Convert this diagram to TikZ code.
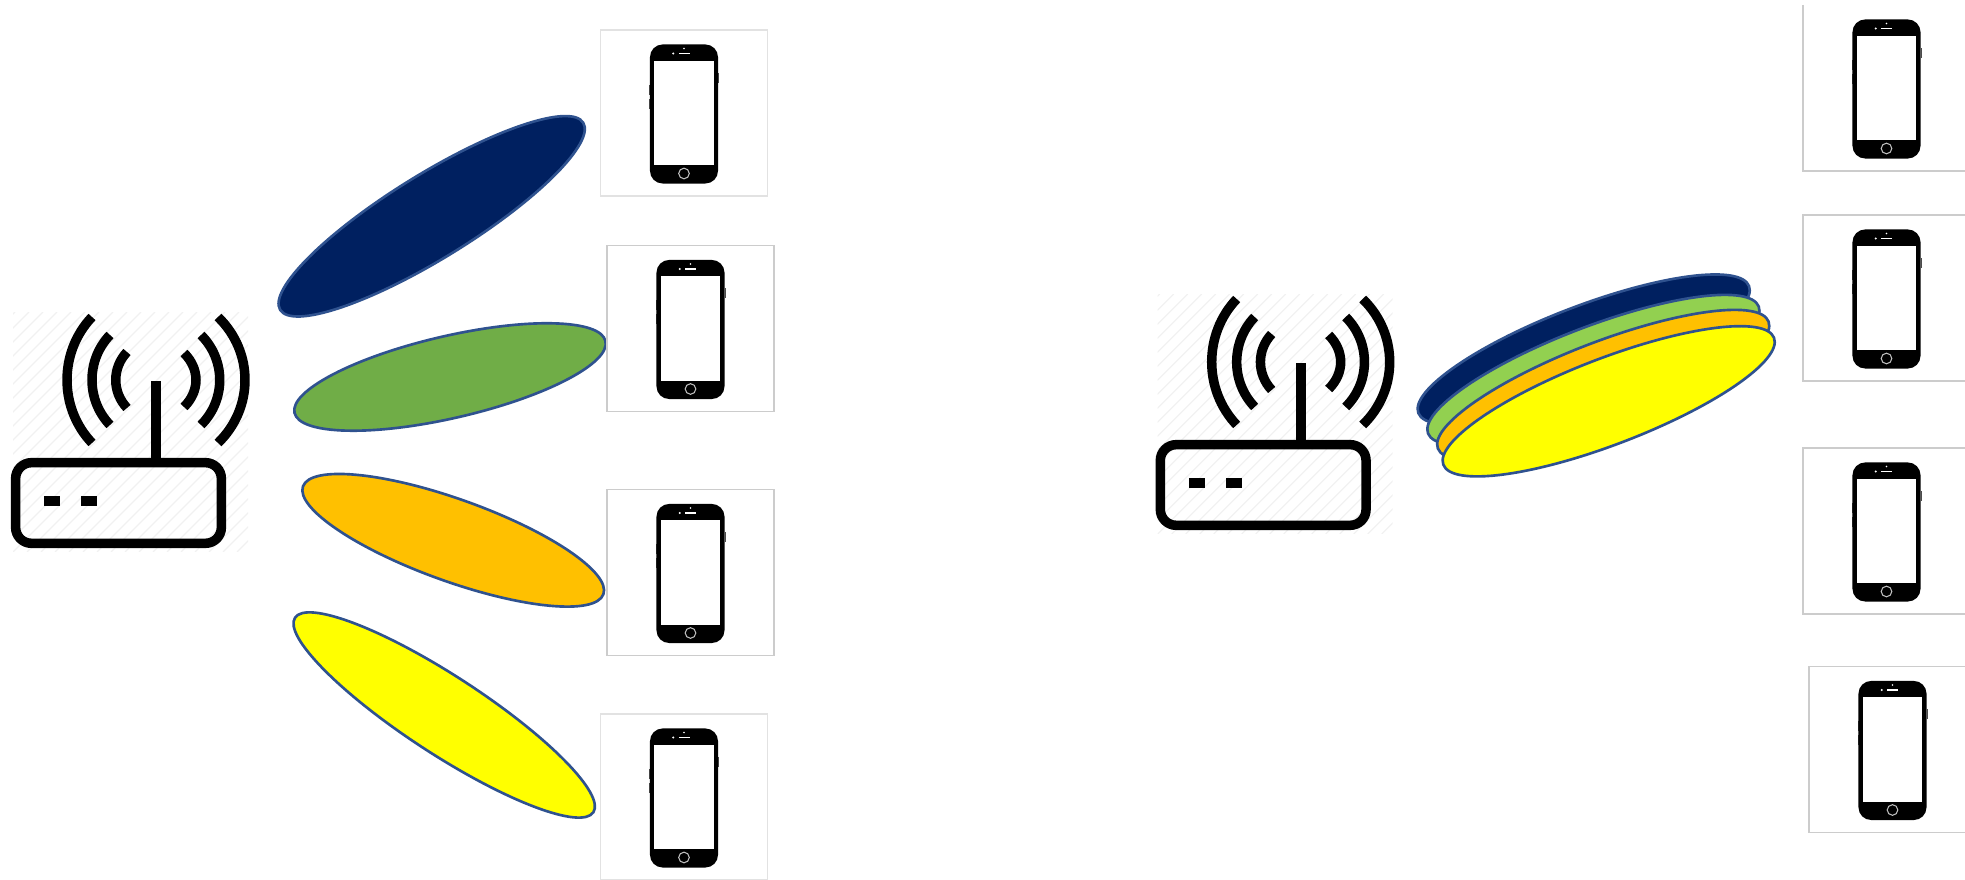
\documentclass[tikz,border=0pt]{standalone}
\usepackage{xcolor}
\usetikzlibrary{shapes.geometric}

\definecolor{beamnavy}{HTML}{002060}
\definecolor{beamgreen}{HTML}{70AD47}
\definecolor{beamlime}{HTML}{92D050}
\definecolor{beamorange}{HTML}{FFC000}
\definecolor{beamyellow}{HTML}{FFFF00}
\definecolor{beamline}{HTML}{2F528F}
\definecolor{framegray}{HTML}{CCCCCC}
\definecolor{framelight}{HTML}{E2E2E2}
\definecolor{hatchgray}{HTML}{F1F1F1}

\tikzset{
  beam/.style={ellipse, draw=beamline, line width=0.75pt, inner sep=0pt, outer sep=0pt},
  wave/.style={line width=2.7pt, black},
  phonebox/.style={rectangle, line width=0.35pt, minimum width=1.67cm, minimum height=1.66cm, inner sep=0pt, outer sep=0pt},
  phonebody/.style={rectangle, fill=black, rounded corners=3.6pt, minimum width=0.68cm, minimum height=1.39cm, inner sep=0pt, outer sep=0pt},
  phonescreen/.style={rectangle, fill=white, minimum width=0.595cm, minimum height=1.04cm, inner sep=0pt, outer sep=0pt},
  routerbody/.style={rectangle, draw=black, line width=2.7pt, rounded corners=4.5pt, minimum width=2.056cm, minimum height=0.806cm, inner sep=0pt, outer sep=0pt},
  routerled/.style={rectangle, fill=black, minimum width=0.16cm, minimum height=0.1cm, inner sep=0pt, outer sep=0pt}
}

% #1 frame colour, #2 name, #3 and #4 centre of the phone
\newcommand{\drawphone}[4][draw=framegray]{
  \node[phonebox, #1] (#2) at (#3,#4) {};
  \begin{scope}[shift={(#3,#4)}]
    \fill[black!70] (34,-40) rectangle (35,-30);
    \fill[black!70] (-35,-28) rectangle (-34,-18);
    \fill[black!70] (-35,-14) rectangle (-34,-4);
    \node[phonebody] (#2body) at (0,1) {};
    \node[phonescreen] (#2screen) at (0,0) {};
    \fill[white] (-10.7,-59.5) circle (1.1);
    \fill[white] (0,-64.5) circle (0.9);
    \fill[white] (-5.3,-60.2) rectangle (5.7,-58.8);
    \draw[white!75!black, line width=0.3pt] (0,60.5) circle (5.3);
  \end{scope}
}

% #1 name, #2 and #3 shift of the router
\newcommand{\drawrouter}[3]{
  \begin{scope}[shift={(#2,#3)}]
    % faint stripes behind the icon
    \begin{scope}
      \clip (13,313) rectangle (248,552);
      \foreach \i in {0,14,...,490}
        \draw[hatchgray, line width=0.35pt] (13+\i,552) -- (13+\i+240,552-240) ;
      \foreach \i in {14,28,...,240}
        \draw[hatchgray, line width=0.35pt] (13-\i,552) -- (13-\i+240,552-240) ;
    \end{scope}
    \node[routerbody] (#1) at (118.5,503) {};
    \node[routerled] (#1ledA) at (52,501) {};
    \node[routerled] (#1ledB) at (89,501) {};
    \coordinate (#1foot) at (156,460);
    \coordinate (#1top) at (156,381);
    \draw[line width=2.85pt] (#1foot) -- (#1top);
    % left waves
    \draw[wave] (92,317) .. controls (58.7,352) and (58.7,408) .. (92,443);
    \draw[wave] (110,335) .. controls (86,360) and (86,400) .. (110,425);
    \draw[wave] (127,352) .. controls (112,368) and (112,392) .. (127,408);
    % right waves
    \draw[wave] (218,317) .. controls (254,352) and (254,408) .. (218,443);
    \draw[wave] (201,335) .. controls (226,360) and (226,400) .. (201,425);
    \draw[wave] (184,353) .. controls (200,369) and (200,391) .. (184,407);
  \end{scope}
}

\begin{document}
\begin{tikzpicture}[x=0.01cm, y=-0.01cm]
\useasboundingbox (0,0) rectangle (1965,880);

% left side
\drawrouter{routerL}{0}{0}
\node[beam, fill=beamnavy, minimum width=3.56cm, minimum height=0.84cm, rotate=31.7] (beamLa) at (431.7,216.3) {};
\node[beam, fill=beamgreen, minimum width=3.19cm, minimum height=0.82cm, rotate=13] (beamLb) at (450,377) {};
\node[beam, fill=beamorange, minimum width=3.19cm, minimum height=0.82cm, rotate=-19.75] (beamLc) at (453.2,540.3) {};
\node[beam, fill=beamyellow, minimum width=3.56cm, minimum height=0.78cm, rotate=-33.1] (beamLd) at (444.2,715) {};
\drawphone[draw=framelight]{phoneA}{684}{113}
\drawphone{phoneB}{690.5}{328.5}
\drawphone{phoneC}{690.5}{572.5}
\drawphone[draw=framelight]{phoneD}{684}{797}

% right side
\drawrouter{routerR}{1144.7}{-18}
\node[beam, fill=beamnavy, minimum width=3.54cm, minimum height=0.86cm, rotate=21] (beamRa) at (1583.7,349.6) {};
\node[beam, fill=beamlime, minimum width=3.54cm, minimum height=0.86cm, rotate=21] (beamRb) at (1593.4,370) {};
\node[beam, fill=beamorange, minimum width=3.54cm, minimum height=0.86cm, rotate=21] (beamRc) at (1603.2,385) {};
\node[beam, fill=beamyellow, minimum width=3.54cm, minimum height=0.86cm, rotate=21] (beamRd) at (1608.7,401.3) {};
\drawphone[draw=none]{phoneE}{1886.5}{88}
\draw[framegray, line width=0.35pt] (phoneE.north west) -- (phoneE.south west) -- (phoneE.south east);
\drawphone{phoneF}{1886.5}{298}
\drawphone{phoneG}{1886.5}{531}
\drawphone{phoneH}{1892.5}{749.5}
\end{tikzpicture}
\end{document}
